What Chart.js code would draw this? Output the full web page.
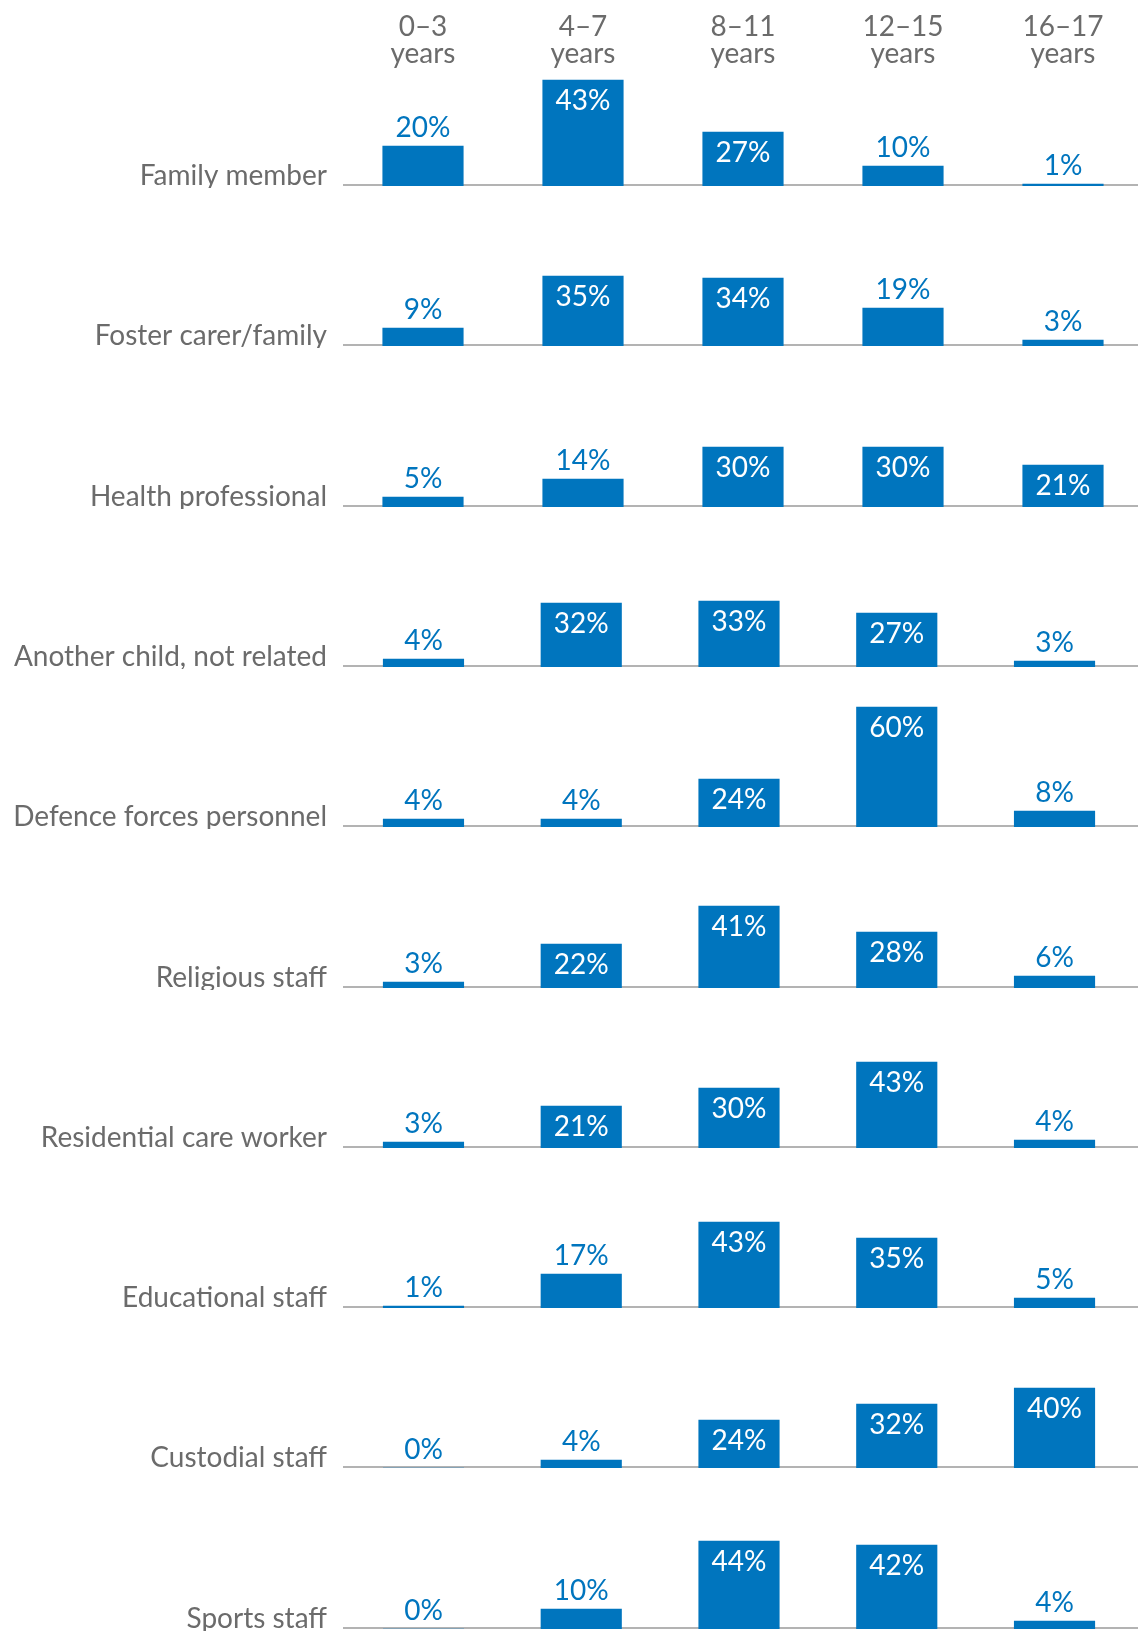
<!DOCTYPE html>
<html>
<head>
<meta charset="utf-8">
<script src="https://cdn.jsdelivr.net/npm/chart.js@4.4.1/dist/chart.umd.min.js"></script>
<style>
  html, body { margin: 0; padding: 0; background: #fff; overflow: hidden; }
  body { width: 1138px; height: 1631px; position: relative; }
  canvas { position: absolute; left: 0; }
</style>
</head>
<body>
<script>
// column headers
const ageGroups = ["0–3", "4–7", "8–11", "12–15", "16–17"];
const ageUnit = "years";

// row names
const relationships = [
  "Family member",
  "Foster carer/family",
  "Health professional",
  "Another child, not related",
  "Defence forces personnel",
  "Religious staff",
  "Residential care worker",
  "Educational staff",
  "Custodial staff",
  "Sports staff",
];

// % per age group, one array per row
const familyMember = [20, 53, 27, 10, 1]; // 4-7 bar is drawn taller than its 43% label in the source
const fosterCarer = [9, 35, 34, 19, 3];
const healthProfessional = [5, 14, 30, 30, 21];
const anotherChild = [4, 32, 33, 27, 3];
const defenceForces = [4, 4, 24, 60, 8];
const religiousStaff = [3, 22, 41, 28, 6];
const residentialCare = [3, 21, 30, 43, 4];
const educationalStaff = [1, 17, 43, 35, 5];
const custodialStaff = [0, 4, 24, 32, 40];
const sportsStaff = [0, 10, 44, 42, 4];

const rowValues = [
  familyMember, fosterCarer, healthProfessional, anotherChild, defenceForces,
  religiousStaff, residentialCare, educationalStaff, custodialStaff, sportsStaff,
];

// printed text that differs from the bar height
const printedOverrides = { 0: { 1: "43%" } };

const BLUE = "#0075be";
const GREY_TEXT = "#6b6b6b";
const GREY_LINE = "#b3b3b3";
const FONT = "28px Lato";

const rowDecor = {
  id: "rowDecor",
  beforeDatasetsDraw(chart, args, opts) {
    const ctx = chart.ctx;
    const y0 = chart.scales.y.getPixelForValue(0);
    ctx.save();
    // baseline
    ctx.strokeStyle = GREY_LINE;
    ctx.lineWidth = 2;
    ctx.beginPath();
    ctx.moveTo(343, y0 - 1);
    ctx.lineTo(chart.width, y0 - 1);
    ctx.stroke();
    // row name
    ctx.font = FONT;
    ctx.fillStyle = GREY_TEXT;
    ctx.textAlign = "right";
    ctx.textBaseline = "alphabetic";
    ctx.fillText(opts.name, 327, y0 - 1);
    ctx.restore();
  },
  afterDatasetsDraw(chart, args, opts) {
    const ctx = chart.ctx;
    const values = chart.data.datasets[0].data;
    ctx.save();
    ctx.font = FONT;
    ctx.textAlign = "center";
    ctx.textBaseline = "alphabetic";
    chart.getDatasetMeta(0).data.forEach((bar, i) => {
      const v = values[i];
      const txt = (opts.printed && opts.printed[i]) || v + "%";
      if (v > 20) {
        ctx.fillStyle = "#fff";
        ctx.fillText(txt, bar.x, bar.y + 30);
      } else {
        ctx.fillStyle = BLUE;
        ctx.fillText(txt, bar.x, bar.y - 9.5);
      }
    });
    // column headers on the first row only
    if (opts.header) {
      ctx.fillStyle = GREY_TEXT;
      chart.data.labels.forEach((lab, i) => {
        const x = chart.scales.x.getPixelForValue(i);
        ctx.fillText(lab, x, 36);
        ctx.fillText(ageUnit, x, 63);
      });
    }
    ctx.restore();
  },
};

function drawRows() {
  rowValues.forEach((values, k) => {
    const bottom = 186 + 160.3 * k;
    const top = k === 0 ? 0 : Math.round(bottom - 150);
    const height = Math.round(bottom + 2 - top);
    const wide = k < 3; // the first three rows use a slightly wider column step
    const padLeft = wide ? 343 : 344.6;
    const width = wide ? 1143 : 1138;
    const padRight = wide ? 0 : 4.6;

    const canvas = document.createElement("canvas");
    canvas.width = width;
    canvas.height = height;
    canvas.style.top = top + "px";
    canvas.style.width = width + "px";
    canvas.style.height = height + "px";
    document.body.appendChild(canvas);

    new Chart(canvas, {
      type: "bar",
      data: {
        labels: ageGroups,
        datasets: [
          {
            data: values,
            backgroundColor: BLUE,
            borderWidth: 0,
            barThickness: 80.5,
          },
        ],
      },
      options: {
        responsive: false,
        animation: false,
        layout: {
          padding: { left: padLeft, right: padRight, top: height - 2 - 130, bottom: 2 },
        },
        scales: {
          x: { display: false },
          y: { display: false, min: 0, max: 65 },
        },
        plugins: {
          legend: { display: false },
          tooltip: { enabled: false },
          rowDecor: {
            name: relationships[k],
            printed: printedOverrides[k],
            header: k === 0,
          },
        },
      },
      plugins: [rowDecor],
    });
  });
}

if (document.fonts && document.fonts.load) {
  document.fonts.load(FONT).then(drawRows, drawRows);
} else {
  drawRows();
}
</script>
</body>
</html>
